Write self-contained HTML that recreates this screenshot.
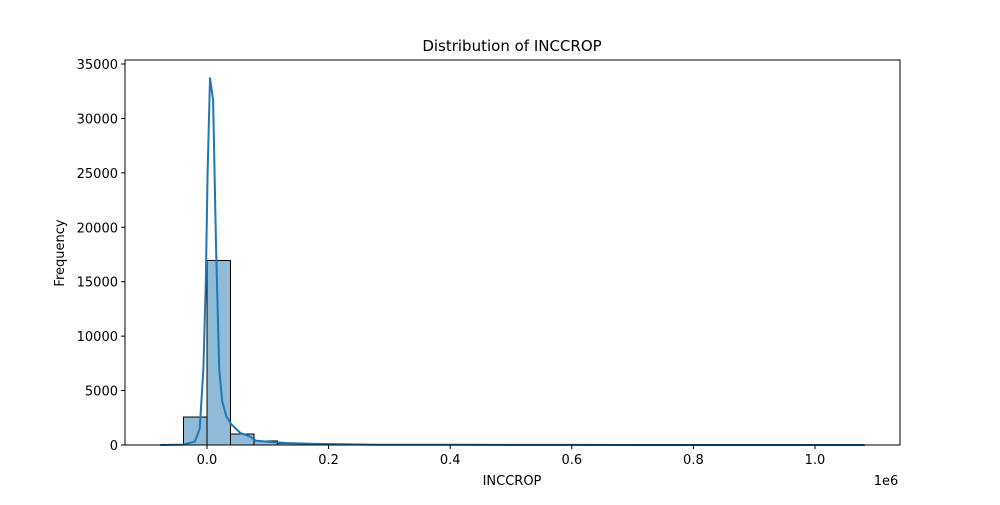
<!DOCTYPE html>
<html><head><meta charset="utf-8">
<style>
body{margin:0;background:#fff;}
svg text{font-family:"DejaVu Sans","Liberation Sans",sans-serif;fill:#000;}
</style></head>
<body>
<svg id="chart" width="1000" height="500" viewBox="0 0 1000 500">
<rect x="0" y="0" width="1000" height="500" fill="#fff"/>
<g id="bars"></g>
<g id="kde"></g>
<g id="axes"></g>
</svg>
<script>
const binStart = -77300;
const binWidth = 38650;
const counts = [0, 2570, 16950, 1010, 370, 150, 70, 50, 35, 25, 15, 10, 12, 8, 6, 5, 4, 3, 3, 2, 2, 2, 1, 1, 1, 1, 1, 1, 0, 1];
const kdeX = [-77000, -40000, -20000, -12000, -6000, -2000, 1000, 5000, 10000, 15000, 20000, 25000, 32000, 40000, 55000, 70000, 80000, 100000, 130000, 170000, 220000, 280000, 350000, 420000, 480000, 600000, 800000, 1082000];
const kdeY = [0, 40, 300, 1500, 7000, 15000, 25000, 33700, 31700, 18000, 7000, 4000, 2600, 1900, 1100, 800, 400, 300, 180, 110, 70, 30, 20, 25, 10, 8, 4, 0];
const xTicks = [0, 0.2, 0.4, 0.6, 0.8, 1.0];
const xTickLabels = ["0.0", "0.2", "0.4", "0.6", "0.8", "1.0"];
const yTicks = [0, 5000, 10000, 15000, 20000, 25000, 30000, 35000];

const L=125,R=900,T=60,B=445;
const xs = v => 207 + v*0.000608;
const ys = v => 445 - v*(381/35000);
const NS="http://www.w3.org/2000/svg";
function mk(tag, attrs, parent){const e=document.createElementNS(NS,tag);for(const k in attrs)e.setAttribute(k,attrs[k]);parent.appendChild(e);return e;}
const gb=document.getElementById('bars'), gk=document.getElementById('kde'), ga=document.getElementById('axes');

counts.forEach((c,i)=>{
  const x0=xs(binStart+i*binWidth), x1=xs(binStart+(i+1)*binWidth);
  const r=mk('rect',{x:x0,y:ys(c),width:x1-x0,height:ys(0)-ys(c),fill:'rgba(31,119,180,0.5)',stroke:'#000','stroke-width':1},gb);
  
  
});

const pts=kdeX.map((x,i)=>xs(x).toFixed(1)+','+ys(kdeY[i]).toFixed(1)).join(' ');
const pl=mk('polyline',{points:pts,fill:'none',stroke:'#1f77b4','stroke-width':2,'stroke-linejoin':'round'},gk);



const fr=mk('rect',{x:L,y:T,width:R-L,height:B-T,fill:'none',stroke:'#000','stroke-width':1},ga);



xTicks.forEach((t,i)=>{
  const x=xs(t*1e6);
  mk('line',{x1:x,y1:B,x2:x,y2:B+4,stroke:'#000'},ga);
  const tx=mk('text',{x:x,y:B+19,'text-anchor':'middle','font-size':13},ga);
  tx.textContent=xTickLabels[i];
  
  
});
yTicks.forEach(t=>{
  const y=ys(t);
  mk('line',{x1:L-4,y1:y,x2:L,y2:y,stroke:'#000'},ga);
  const tx=mk('text',{x:L-7,y:y+5,'text-anchor':'end','font-size':13},ga);
  tx.textContent=t;
  
  
});
function label(txt,attrs,name){const e=mk('text',attrs,ga);e.textContent=txt;}
label('Distribution of INCCROP',{x:512,y:51,'text-anchor':'middle','font-size':15},'chart-title');
label('INCCROP',{x:512,y:485,'text-anchor':'middle','font-size':13},'x-axis-title');
label('1e6',{x:886,y:485,'text-anchor':'middle','font-size':13},'x-axis-offset');
label('Frequency',{x:64,y:253,'text-anchor':'middle','font-size':13,transform:'rotate(-90 64 253)'},'y-axis-title');
</script>
</body></html>
